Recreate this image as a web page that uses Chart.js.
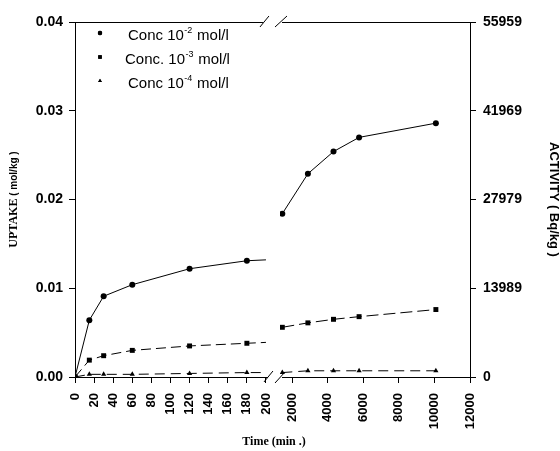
<!DOCTYPE html>
<html>
<head>
<meta charset="utf-8">
<script src="https://cdn.jsdelivr.net/npm/chart.js@4/dist/chart.umd.min.js"></script>
<style>
    body { margin: 0; background: #fff; }
    #wrap { width: 560px; height: 451px; position: relative; }
</style>
</head>
<body>
<div id="wrap"><canvas id="chart"></canvas></div>
<script>
// short times (min) and long times (min), two halves of the broken axis
const timeShort = [0, 15, 30, 60, 120, 180, 200];
const timeLong = [1440, 2880, 4320, 5760, 10080];

const conc2Short = [0, 0.0064, 0.0091, 0.0104, 0.0122, 0.0131, 0.0132];
const conc3Short = [0, 0.0019, 0.0024, 0.0030, 0.0035, 0.0038, 0.0039];
const conc4Short = [0, 0.0003, 0.0003, 0.0003, 0.0004, 0.0005, 0.0005];

const conc2Long = [0.0184, 0.0229, 0.0254, 0.0270, 0.0286];
const conc3Long = [0.0056, 0.0061, 0.0065, 0.0068, 0.0076];
const conc4Long = [0.0005, 0.0007, 0.0007, 0.0007, 0.0007];

const xTicksShort = [0, 20, 40, 60, 80, 100, 120, 140, 160, 180, 200];
const xTicksLong = [2000, 4000, 6000, 8000, 10000, 12000];
const uptakeTicks = [0, 0.01, 0.02, 0.03, 0.04];
const activityTicks = [0, 13989, 27979, 41969, 55959];

const legendLabels = [
    ["Conc 10", "-2", " mol/l"],
    ["Conc. 10", "-3", " mol/l"],
    ["Conc 10", "-4", " mol/l"]
];
const pointStyles = ["circle", "rect", "triangle"];

const FONT = "'Liberation Sans', Arial, sans-serif";
const SERIF = "'Liberation Serif', 'Times New Roman', serif";
Chart.defaults.font.family = FONT;
Chart.defaults.color = "#000";

function series(xs, ys, axis, style, dash, lastHidden) {
    return {
        data: xs.map((x, i) => ({ x: x, y: ys[i] })),
        xAxisID: axis,
        yAxisID: "y",
        borderColor: "#000",
        backgroundColor: "#000",
        borderWidth: 1,
        borderDash: dash,
        pointStyle: style,
        pointRadius: xs.map((x, i) => (lastHidden && i === xs.length - 1) ? 0 : (style === "rect" ? 3.5 : 3)),
        pointBorderWidth: 0,
        tension: 0
    };
}

const framePlugin = {
    id: "frame",
    afterDraw(chart) {
        const ctx = chart.ctx;
        const a = chart.chartArea;
        const x1 = chart.scales.x1;
        const gapL = x1.getPixelForValue(200) + 2;
        const gapR = chart.scales.x2.left + 2;
        ctx.save();
        ctx.strokeStyle = "#000";
        ctx.lineWidth = 1;
        ctx.beginPath();
        // bottom axis with break
        ctx.moveTo(a.left, a.bottom + 0.5);
        ctx.lineTo(gapL, a.bottom + 0.5);
        ctx.moveTo(gapR, a.bottom + 0.5);
        ctx.lineTo(a.right, a.bottom + 0.5);
        ctx.moveTo(gapL - 4, a.bottom + 5);
        ctx.lineTo(gapL + 5, a.bottom - 6);
        ctx.moveTo(gapR - 7, a.bottom + 6);
        ctx.lineTo(gapR + 3, a.bottom - 5);
        // top frame with break
        ctx.moveTo(a.left, a.top + 0.5);
        ctx.lineTo(gapL - 5, a.top + 0.5);
        ctx.moveTo(gapR, a.top + 0.5);
        ctx.lineTo(a.right, a.top + 0.5);
        ctx.moveTo(gapL - 8, a.top + 5);
        ctx.lineTo(gapL + 1, a.top - 6);
        ctx.moveTo(gapR - 7, a.top + 5);
        ctx.lineTo(gapR + 5, a.top - 6);
        ctx.stroke();

        // x axis title
        ctx.fillStyle = "#000";
        ctx.font = "bold 12px " + SERIF;
        ctx.textAlign = "center";
        ctx.textBaseline = "middle";
        ctx.fillText("Time (min .)", 274, 442);

        // left axis title, two fonts
        ctx.save();
        ctx.translate(14, (a.top + a.bottom) / 2);
        ctx.rotate(-Math.PI / 2);
        ctx.textAlign = "left";
        const t1 = "UPTAKE";
        const t2 = " ( mol/kg )";
        ctx.font = "bold 12px " + SERIF;
        const w1 = ctx.measureText(t1).width;
        ctx.font = "bold 10px " + FONT;
        const w2 = ctx.measureText(t2).width;
        let px = -(w1 + w2) / 2;
        ctx.font = "bold 12px " + SERIF;
        ctx.fillText(t1, px, 0);
        ctx.font = "bold 10px " + FONT;
        ctx.fillText(t2, px + w1, 0);
        ctx.restore();

        // legend
        const lx = a.left + 25;
        legendLabels.forEach((parts, i) => {
            const y = a.top + 14 + i * 24;
            Chart.helpers.drawPoint(ctx, {
                pointStyle: pointStyles[i],
                radius: i === 1 ? 2.5 : 2.2,
                rotation: 0,
                borderWidth: 0
            }, lx, y - 3);
            ctx.fill();
            let tx = lx + (i === 1 ? 25 : 28);
            ctx.textAlign = "left";
            ctx.font = "15px " + FONT;
            ctx.fillText(parts[0], tx, y);
            tx += ctx.measureText(parts[0]).width;
            ctx.font = "9px " + FONT;
            ctx.fillText(parts[1], tx + 0.5, y - 5);
            tx += ctx.measureText(parts[1]).width + 1;
            ctx.font = "15px " + FONT;
            ctx.fillText(parts[2], tx, y);
        });
        ctx.restore();
    }
};

const tickGrid = {
    drawOnChartArea: false,
    drawTicks: true,
    tickLength: 6,
    color: "#000",
    tickColor: "#000"
};

new Chart(document.getElementById("chart"), {
    type: "line",
    data: {
        datasets: [
            series(timeShort, conc2Short, "x1", "circle", [], true),
            series(timeShort, conc3Short, "x1", "rect", [10, 5], true),
            series(timeShort, conc4Short, "x1", "triangle", [10, 6], true),
            series(timeLong, conc2Long, "x2", "circle", [], false),
            series(timeLong, conc3Long, "x2", "rect", [12, 5], false),
            series(timeLong, conc4Long, "x2", "triangle", [10, 6], false)
        ]
    },
    options: {
        responsive: true,
        maintainAspectRatio: false,
        animation: false,
        layout: { padding: { top: 22, left: 0, right: 0, bottom: 0 } },
        plugins: {
            legend: { display: false },
            tooltip: { enabled: false }
        },
        scales: {
            x1: {
                type: "linear",
                position: "bottom",
                stack: "time",
                stackWeight: 205,
                min: 0,
                max: 214.7,
                afterBuildTicks: (s) => { s.ticks = xTicksShort.map((v) => ({ value: v })); },
                afterFit: (s) => { s.height = 74; },
                grid: tickGrid,
                border: { display: false },
                ticks: {
                    autoSkip: false,
                    minRotation: 90,
                    maxRotation: 90,
                    padding: 10,
                    font: { size: 13, weight: "bold" }
                }
            },
            x2: {
                type: "linear",
                position: "bottom",
                stack: "time",
                stackWeight: 190,
                min: 1310,
                max: 12000,
                afterBuildTicks: (s) => { s.ticks = xTicksLong.map((v) => ({ value: v })); },
                afterFit: (s) => { s.height = 74; },
                grid: tickGrid,
                border: { display: false },
                ticks: {
                    autoSkip: false,
                    minRotation: 90,
                    maxRotation: 90,
                    padding: 10,
                    font: { size: 13, weight: "bold" },
                    callback: (v) => String(v)
                }
            },
            y: {
                type: "linear",
                position: "left",
                min: 0,
                max: 0.04,
                afterBuildTicks: (s) => { s.ticks = uptakeTicks.map((v) => ({ value: v })); },
                afterFit: (s) => { s.width = 75; },
                grid: tickGrid,
                border: { display: true, color: "#000", width: 1 },
                ticks: {
                    padding: 6,
                    font: { size: 14, weight: "bold" },
                    callback: (v) => Number(v).toFixed(2)
                }
            },
            y2: {
                type: "linear",
                position: "right",
                min: 0,
                max: 55959,
                afterBuildTicks: (s) => { s.ticks = activityTicks.map((v) => ({ value: v })); },
                afterFit: (s) => { s.width = 90; },
                grid: tickGrid,
                border: { display: true, color: "#000", width: 1 },
                ticks: {
                    padding: 7,
                    font: { size: 14, weight: "bold" },
                    callback: (v) => String(v)
                },
                title: {
                    display: true,
                    text: "ACTIVITY ( Bq/kg )",
                    font: { size: 13, weight: "bold", lineHeight: 1 },
                    padding: { top: 0, bottom: 0 }
                }
            }
        }
    },
    plugins: [framePlugin]
});
</script>
</body>
</html>
